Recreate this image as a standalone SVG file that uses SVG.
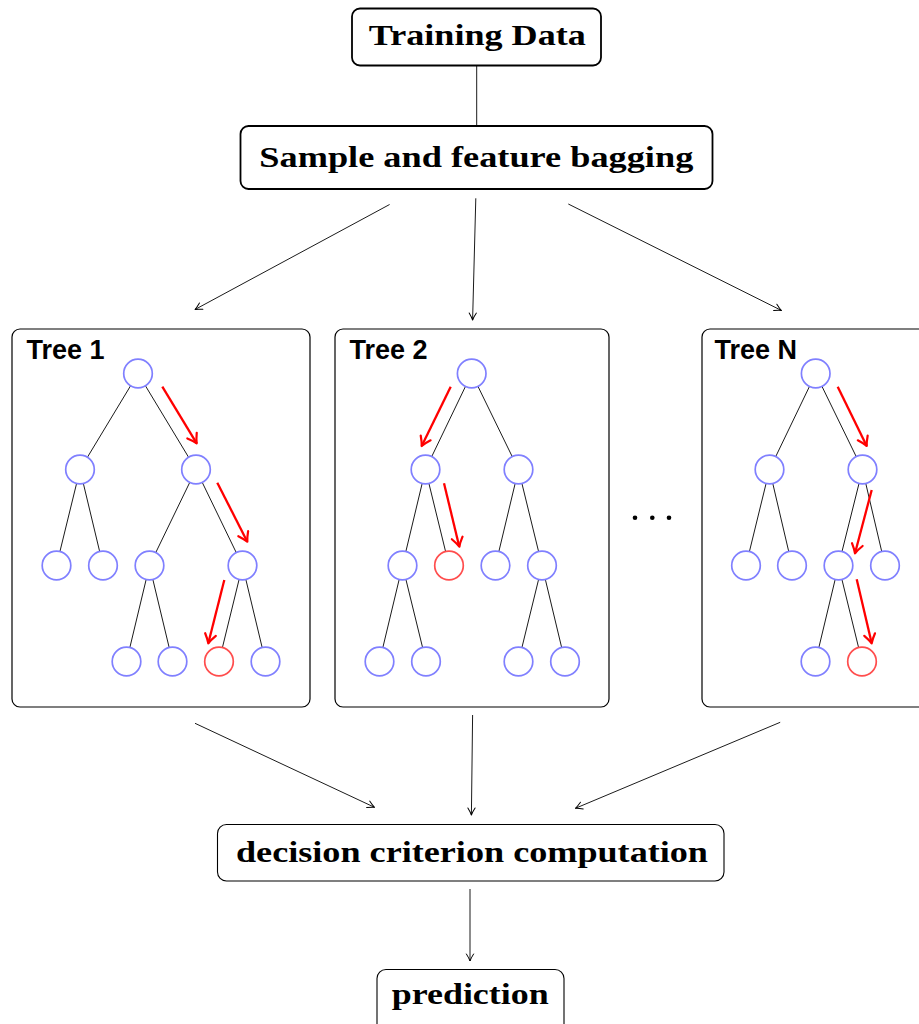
<svg xmlns="http://www.w3.org/2000/svg" width="919" height="1024" viewBox="0 0 919 1024">
  <style>
    .title { font-family: "Liberation Serif", "Times New Roman", serif; font-weight: bold; font-size: 30px; fill: #000; text-anchor: middle; }
    .label { font-family: "Liberation Sans", Arial, sans-serif; font-weight: bold; font-size: 27px; fill: #000; }
    .box-main { fill: #fff; stroke: #000; stroke-width: 1.8; }
    .box-out { fill: #fff; stroke: #000; stroke-width: 1.1; }
    .box-tree { fill: #fff; stroke: #000; stroke-width: 1.2; }
    .edge { stroke: #000; stroke-width: 0.9; fill: none; }
    .node { fill: #fff; stroke: #8080ff; stroke-width: 1.7; }
    .node.hit { stroke: #ff4d4d; }
    .walk { stroke: #ff0000; stroke-width: 2.3; fill: none; marker-end: url(#red-head); }
    .conn { stroke: #000; stroke-width: 0.9; fill: none; }
    .conn.arrow { marker-end: url(#black-head); }
  </style>
  <defs>
    <marker id="red-head" markerUnits="userSpaceOnUse" viewBox="-11 -7 13 14" markerWidth="13" markerHeight="14" refX="0" refY="0" orient="auto">
      <path d="M-9,-5.5 Q-3.5,-1.5 0,0 Q-3.5,1.5 -9,5.5" fill="none" stroke="#ff0000" stroke-width="2.2" stroke-linecap="round" stroke-linejoin="round"/>
    </marker>
    <marker id="black-head" markerUnits="userSpaceOnUse" viewBox="-8 -5 9.5 10" markerWidth="9.5" markerHeight="10" refX="0" refY="0" orient="auto">
      <path d="M-7,-3.6 Q-2.5,-0.8 0,0 Q-2.5,0.8 -7,3.6" fill="none" stroke="#000" stroke-width="1" stroke-linecap="round" stroke-linejoin="round"/>
    </marker>
  </defs>

  <rect width="919" height="1024" fill="#fff"/>

  <!-- connectors between the main blocks -->
  <g id="connectors">
    <line class="conn" x1="476.7" y1="66" x2="476.7" y2="126"/>
    <line class="conn arrow" x1="389.6" y1="204.5" x2="195" y2="309.5"/>
    <line class="conn arrow" x1="475.8" y1="198.3" x2="472.6" y2="320"/>
    <line class="conn arrow" x1="568.3" y1="204" x2="781.5" y2="310.5"/>
    <line class="conn arrow" x1="195" y1="723.3" x2="374.5" y2="807.3"/>
    <line class="conn arrow" x1="472.6" y1="715" x2="471.4" y2="815"/>
    <line class="conn arrow" x1="780.2" y1="722.3" x2="575.4" y2="808.3"/>
    <line class="conn arrow" x1="470" y1="889" x2="470" y2="961"/>
  </g>

  <g id="training-data">
    <rect class="box-main" x="352" y="8.5" width="249" height="57" rx="8"/>
    <text class="title" x="477.3" y="45" textLength="217" lengthAdjust="spacingAndGlyphs">Training Data</text>
  </g>

  <g id="bagging">
    <rect class="box-main" x="240.5" y="126" width="472" height="63" rx="8"/>
    <text class="title" x="476.3" y="166.7" textLength="434" lengthAdjust="spacingAndGlyphs">Sample and feature bagging</text>
  </g>

  <!-- Tree 1 -->
  <g id="tree-1">
    <rect class="box-tree" x="12" y="329" width="298" height="378" rx="8"/>
    <text class="label" x="26.5" y="359">Tree 1</text>
    <g class="edges">
      <line class="edge" x1="138" y1="373.5" x2="80" y2="469.5"/>
      <line class="edge" x1="138" y1="373.5" x2="196" y2="469.5"/>
      <line class="edge" x1="80" y1="469.5" x2="56.5" y2="565.5"/>
      <line class="edge" x1="80" y1="469.5" x2="103" y2="565.5"/>
      <line class="edge" x1="196" y1="469.5" x2="149.5" y2="565.5"/>
      <line class="edge" x1="196" y1="469.5" x2="242.5" y2="565.5"/>
      <line class="edge" x1="149.5" y1="565.5" x2="126.5" y2="661.5"/>
      <line class="edge" x1="149.5" y1="565.5" x2="172.5" y2="661.5"/>
      <line class="edge" x1="242.5" y1="565.5" x2="219" y2="661.5"/>
      <line class="edge" x1="242.5" y1="565.5" x2="265.5" y2="661.5"/>
    </g>
    <circle class="node" cx="138" cy="373.5" r="14.3"/>
    <circle class="node" cx="80" cy="469.5" r="14.3"/>
    <circle class="node" cx="196" cy="469.5" r="14.3"/>
    <circle class="node" cx="56.5" cy="565.5" r="14.3"/>
    <circle class="node" cx="103" cy="565.5" r="14.3"/>
    <circle class="node" cx="149.5" cy="565.5" r="14.3"/>
    <circle class="node" cx="242.5" cy="565.5" r="14.3"/>
    <circle class="node" cx="126.5" cy="661.5" r="14.3"/>
    <circle class="node" cx="172.5" cy="661.5" r="14.3"/>
    <circle class="node hit" cx="219" cy="661.5" r="14.3"/>
    <circle class="node" cx="265.5" cy="661.5" r="14.3"/>
    <line class="walk" x1="162.3" y1="386.7" x2="196.7" y2="443.3"/>
    <line class="walk" x1="217.3" y1="482.7" x2="247.3" y2="541.7"/>
    <line class="walk" x1="224.3" y1="580" x2="208.3" y2="643.3"/>
  </g>

  <!-- Tree 2 -->
  <g id="tree-2">
    <rect class="box-tree" x="335" y="329" width="274" height="378" rx="8"/>
    <text class="label" x="349.5" y="359">Tree 2</text>
    <g class="edges">
      <line class="edge" x1="471.7" y1="373.5" x2="425.5" y2="469.5"/>
      <line class="edge" x1="471.7" y1="373.5" x2="518.5" y2="469.5"/>
      <line class="edge" x1="425.5" y1="469.5" x2="402.5" y2="565.5"/>
      <line class="edge" x1="425.5" y1="469.5" x2="449" y2="565.5"/>
      <line class="edge" x1="518.5" y1="469.5" x2="495.5" y2="565.5"/>
      <line class="edge" x1="518.5" y1="469.5" x2="542" y2="565.5"/>
      <line class="edge" x1="402.5" y1="565.5" x2="379.5" y2="661.5"/>
      <line class="edge" x1="402.5" y1="565.5" x2="426" y2="661.5"/>
      <line class="edge" x1="542" y1="565.5" x2="518.5" y2="661.5"/>
      <line class="edge" x1="542" y1="565.5" x2="565" y2="661.5"/>
    </g>
    <circle class="node" cx="471.7" cy="373.5" r="14.3"/>
    <circle class="node" cx="425.5" cy="469.5" r="14.3"/>
    <circle class="node" cx="518.5" cy="469.5" r="14.3"/>
    <circle class="node" cx="402.5" cy="565.5" r="14.3"/>
    <circle class="node hit" cx="449" cy="565.5" r="14.3"/>
    <circle class="node" cx="495.5" cy="565.5" r="14.3"/>
    <circle class="node" cx="542" cy="565.5" r="14.3"/>
    <circle class="node" cx="379.5" cy="661.5" r="14.3"/>
    <circle class="node" cx="426" cy="661.5" r="14.3"/>
    <circle class="node" cx="518.5" cy="661.5" r="14.3"/>
    <circle class="node" cx="565" cy="661.5" r="14.3"/>
    <line class="walk" x1="450.7" y1="386.7" x2="421.7" y2="446"/>
    <line class="walk" x1="444" y1="483.3" x2="459.3" y2="546.7"/>
  </g>

  <!-- ellipsis between the trees -->
  <g id="ellipsis" fill="#000">
    <circle cx="635" cy="517.7" r="2.3"/>
    <circle cx="652.3" cy="517.7" r="2.3"/>
    <circle cx="669" cy="517.7" r="2.3"/>
  </g>

  <!-- Tree N -->
  <g id="tree-n">
    <rect class="box-tree" x="702" y="329" width="274" height="378" rx="8"/>
    <text class="label" x="714.5" y="359">Tree N</text>
    <g class="edges">
      <line class="edge" x1="815.7" y1="373.5" x2="769.5" y2="469.5"/>
      <line class="edge" x1="815.7" y1="373.5" x2="862.5" y2="469.5"/>
      <line class="edge" x1="769.5" y1="469.5" x2="746" y2="565.5"/>
      <line class="edge" x1="769.5" y1="469.5" x2="792" y2="565.5"/>
      <line class="edge" x1="862.5" y1="469.5" x2="838.5" y2="565.5"/>
      <line class="edge" x1="862.5" y1="469.5" x2="885" y2="565.5"/>
      <line class="edge" x1="838.5" y1="565.5" x2="815.5" y2="661.5"/>
      <line class="edge" x1="838.5" y1="565.5" x2="862" y2="661.5"/>
    </g>
    <circle class="node" cx="815.7" cy="373.5" r="14.3"/>
    <circle class="node" cx="769.5" cy="469.5" r="14.3"/>
    <circle class="node" cx="862.5" cy="469.5" r="14.3"/>
    <circle class="node" cx="746" cy="565.5" r="14.3"/>
    <circle class="node" cx="792" cy="565.5" r="14.3"/>
    <circle class="node" cx="838.5" cy="565.5" r="14.3"/>
    <circle class="node" cx="885" cy="565.5" r="14.3"/>
    <circle class="node" cx="815.5" cy="661.5" r="14.3"/>
    <circle class="node hit" cx="862" cy="661.5" r="14.3"/>
    <line class="walk" x1="837.7" y1="386.7" x2="866.7" y2="446"/>
    <line class="walk" x1="871.7" y1="490" x2="855" y2="553.3"/>
    <line class="walk" x1="856.7" y1="579.3" x2="871.7" y2="643.3"/>
  </g>

  <g id="decision">
    <rect class="box-out" x="217.5" y="824.5" width="506.5" height="56.5" rx="9"/>
    <text class="title" x="472" y="861.7" textLength="472" lengthAdjust="spacingAndGlyphs">decision criterion computation</text>
  </g>

  <g id="prediction">
    <rect class="box-out" x="377" y="969.5" width="187" height="64" rx="9"/>
    <text class="title" x="470.2" y="1004.3" textLength="157" lengthAdjust="spacingAndGlyphs">prediction</text>
  </g>
</svg>
